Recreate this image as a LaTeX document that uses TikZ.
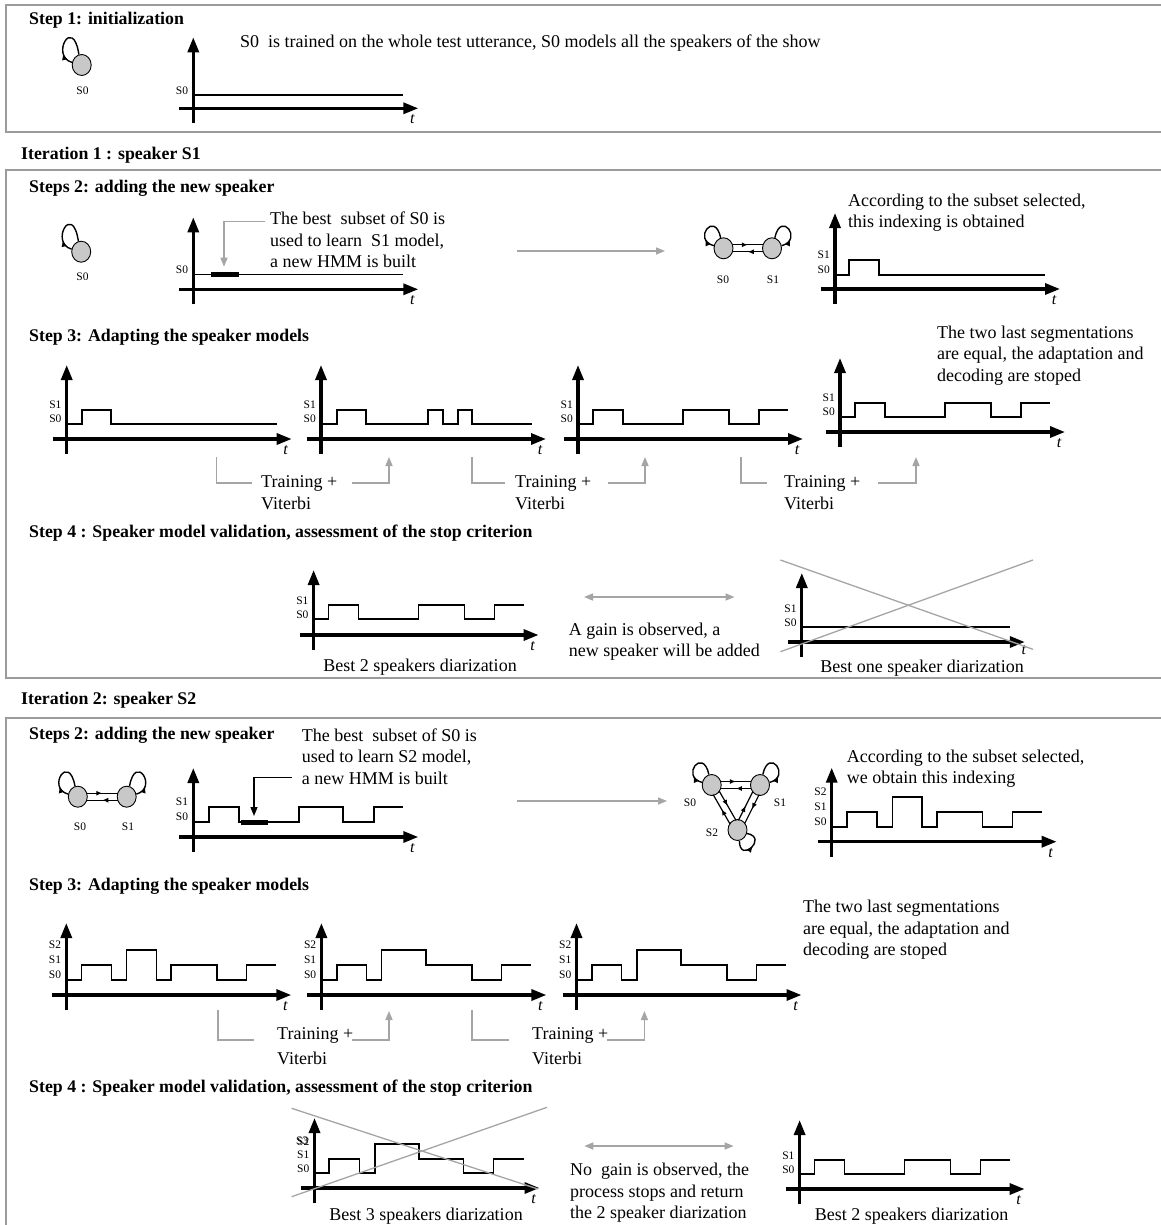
\documentclass[tikz,border=0pt]{standalone}
\usepackage{fontspec}
\setmainfont{Liberation Serif}
\usetikzlibrary{arrows.meta,shapes.geometric,decorations.markings,calc}
\definecolor{boxgray}{RGB}{155,155,155}
\definecolor{arrgray}{RGB}{165,165,165}
\definecolor{statefill}{RGB}{200,200,200}
\newcommand{\chartaxes}[4][72]{%
  \coordinate (#2) at (#3,#4);
  \draw[axisline] ($(#2)+(-14,0)$) -- ($(#2)+(225,0)$);
  \draw[axisline] ($(#2)+(0,15)$) -- ($(#2)+(0,-#1)$);
  \node[tlab] (#2t) at ($(#2)+(219,11)$) {t};}
\newcommand{\signal}[2]{\begin{scope}[shift={(#1)}]\draw[sig] #2;\end{scope}}
\newcommand{\lvl}[3]{\node[lab,anchor=east] at ($(#1)+(-5,-#2)$) {#3};}
\newcommand{\pairedge}[2]{%
  \draw[edgeline] ($(#1)!3.5pt!90:(#2)$) -- ($(#2)!3.5pt!-90:(#1)$);
  \draw[edgeline] ($(#2)!3.5pt!90:(#1)$) -- ($(#1)!3.5pt!-90:(#2)$);}
\newcommand{\loopUL}[2]{\draw[selfloop] (#1.165) .. controls +(-22,-6) and +(-6,-#2) .. (#1.105);}
\newcommand{\loopUR}[2]{\draw[selfloop] (#1.15) .. controls +(22,-6) and +(6,-#2) .. (#1.75);}
\newcommand{\loopBR}[1]{\draw[selfloop=0.55] (#1.280) .. controls +(0,24) and +(22,4) .. (#1.340);}
\begin{document}
\begin{tikzpicture}[x=1pt,y=-1pt,
  frame/.style={draw=boxgray,line width=1.5pt},
  head/.style={font=\fontsize{17.8}{21}\selectfont\bfseries,anchor=west,inner sep=0pt},
  txt/.style={font=\fontsize{18}{21.5}\selectfont,anchor=west,align=left,inner sep=0pt},
  ctxt/.style={font=\fontsize{18}{21.5}\selectfont,inner sep=0pt},
  lab/.style={font=\fontsize{11.5}{13}\selectfont,inner sep=0pt},
  tlab/.style={font=\fontsize{16}{16}\selectfont\itshape,inner sep=0pt},
  axisline/.style={line width=3.2pt,-{Triangle[length=15pt,width=11pt]}},
  sig/.style={line width=1.6pt},
  thickseg/.style={line width=5pt},
  state/.style={ellipse,draw,line width=0.9pt,fill=statefill,minimum width=19pt,minimum height=21pt,inner sep=0pt},
  selfloop/.style={line width=1.4pt,decoration={markings,mark=at position #1 with {\arrow{Latex[length=6.5pt,width=5.5pt]}}},postaction={decorate}},
  selfloop/.default=0.25,
  edgeline/.style={line width=1.2pt,shorten >=9pt,shorten <=9pt,decoration={markings,mark=at position 0.5 with {\arrow{Latex[length=6pt,width=5pt]}}},postaction={decorate}},
  garrow/.style={draw=arrgray,line width=1.5pt,-{Triangle[length=9pt,width=7pt]}},
  gdarrow/.style={draw=arrgray,line width=1.5pt,{Triangle[length=9pt,width=7pt]}-{Triangle[length=9pt,width=7pt]}},
  gline/.style={draw=arrgray,line width=1.5pt},
  karrow/.style={line width=1.4pt,-{Triangle[length=9pt,width=7pt]}},
  cross/.style={draw=arrgray,line width=1.3pt}]
\useasboundingbox (0,0) rectangle (1160,1225);
\fill[white] (0,0) rectangle (1160,1225);
% ================= Step 1
\draw[frame] (6,5) rectangle (1175,132);
\node[head] (h1) at (29,20) {Step 1: initialization};
\node[state] (n1) at (81.7,65) {};
\loopUL{n1}{40}
\node[lab] (n1l) at (82.5,91) {S0};
\chartaxes[71]{A1}{193.3}{108.3}
\signal{A1}{(0,-13) -- (210,-13)}
\lvl{A1}{18}{S0}
\node[txt] (t1) at (240,43) {S0\ \ is trained on the whole test utterance, S0 models all the speakers of the show};
% ================= Iteration 1
\node[head] (h2) at (21,155) {Iteration 1 : speaker S1};
\draw[frame] (6,170) rectangle (1175,678);
\node[head] (h3) at (29,188) {Steps 2: adding the new speaker};
\node[state] (n2) at (81.2,251.7) {};
\loopUL{n2}{40}
\node[lab] (n2l) at (82.5,277) {S0};
\chartaxes[72]{A2}{193.3}{289.3}
\signal{A2}{(0,-15) -- (210,-15)}
\begin{scope}[shift={(A2)}]\draw[thickseg] (17.5,-15) -- (46,-15);\end{scope}
\lvl{A2}{20}{S0}
\coordinate (g1s) at (265,221.7);
\coordinate (g1e) at (224,266.7);
\draw[garrow] (g1s) -| (g1e);
\node[txt] (t2) at (270,240) {The best\ \ subset of S0 is\\used to learn\ \ S1 model,\\a new HMM is built};
\coordinate (m1s) at (517,251);
\coordinate (m1e) at (665,251);
\draw[garrow] (m1s) -- (m1e);
\node[state] (p1a) at (723.5,248.3) {};
\node[state] (p1b) at (772,248.3) {};
\pairedge{p1a}{p1b}
\loopUL{p1a}{28}
\loopUR{p1b}{28}
\node[lab] (p1al) at (723,280) {S0};
\node[lab] (p1bl) at (773,280) {S1};
\chartaxes[76]{A3}{835}{289}
\signal{A3}{(0,-14) -- (14,-14) |- (44,-29) |- (210,-14)}
\lvl{A3}{19}{S0}
\lvl{A3}{34}{S1}
\node[txt] (t3) at (848,212.5) {According to the subset selected,\\this indexing is obtained};
% ---- Step 3
\node[head] (h4) at (29,337) {Step 3: Adapting the speaker models};
\chartaxes[74]{B1}{66.7}{439}
\signal{B1}{(0,-15) -- (15,-15) |- (44.5,-29) |- (210,-15)}
\chartaxes[74]{B2}{321}{439}
\signal{B2}{(0,-15) -- (16,-15) |- (45,-29) |- (107,-15) |- (122,-29) |- (137,-15) |- (151,-29) |- (211,-15)}
\chartaxes[74]{B3}{578}{439}
\signal{B3}{(0,-15) -- (15,-15) |- (45,-29) |- (105,-15) |- (151,-29) |- (181,-15) |- (210,-29)}
\chartaxes[74]{B4}{840}{432}
\signal{B4}{(0,-15) -- (15,-15) |- (45,-29) |- (105,-15) |- (151,-29) |- (181,-15) |- (210,-29)}
\foreach \c in {B1,B2,B3,B4}{\lvl{\c}{20}{S0}\lvl{\c}{34}{S1}}
\node[txt] (t4) at (937,355.5) {The two last segmentations\\are equal, the adaptation and\\decoding are stoped};
% brackets
\foreach \i/\bx/\hx/\tx/\ra/\rb in {1/216.5/252/261/352/389, 2/472/505/515/608/645, 3/741/767/784/878/916}{
  \coordinate (br\i s) at (\bx,457);
  \coordinate (br\i e) at (\hx,483);
  \draw[gline] (br\i s) |- (br\i e);
  \node[txt] (br\i t) at (\tx,483) {Training +};
  \node[txt] (br\i v) at (\tx,503) {Viterbi};
  \coordinate (br\i a) at (\ra,483);
  \coordinate (br\i b) at (\rb,457);
  \draw[garrow] (br\i a) -| (br\i b);
}
% ---- Step 4
\node[head] (h5) at (29,533) {Step 4 : Speaker model validation, assessment of the stop criterion};
\chartaxes[65]{E1}{313.6}{635}
\signal{E1}{(0,-16) -- (15,-16) |- (45,-30) |- (105,-16) |- (151,-30) |- (181,-16) |- (210,-30)}
\lvl{E1}{20}{S0}
\lvl{E1}{34}{S1}
\node[ctxt] (e1c) at (420,667) {Best 2 speakers diarization};
\coordinate (d1s) at (584,597);
\coordinate (d1e) at (734.5,597);
\draw[gdarrow] (d1s) -- (d1e);
\node[txt] (t5) at (568.7,641.5) {A gain is observed, a\\new speaker will be added};
\coordinate (F1) at (801.8,642);
\draw[axisline] ($(F1)+(-14,0)$) -- ($(F1)+(223,0)$);
\draw[axisline] ($(F1)+(0,15)$) -- ($(F1)+(0,-69)$);
\node[tlab] (F1t) at ($(F1)+(222,8)$) {t};
\signal{F1}{(0,-15) -- (208,-15)}
\lvl{F1}{19}{S0}
\lvl{F1}{33}{S1}
\coordinate (x1a) at (780.4,560);
\coordinate (x1b) at (1033,649.3);
\coordinate (x1c) at (780.4,651.7);
\coordinate (x1d) at (1033,560);
\draw[cross] (x1a) -- (x1b);
\draw[cross] (x1c) -- (x1d);
\node[ctxt] (f1c) at (922,668) {Best one speaker diarization};
% ================= Iteration 2
\node[head] (h6) at (21,700) {Iteration 2: speaker S2};
\draw[frame] (6,718) rectangle (1175,1240);
\node[head] (h7) at (29,735) {Steps 2: adding the new speaker};
\node[state] (p2a) at (77.8,796.7) {};
\node[state] (p2b) at (126.7,796.7) {};
\pairedge{p2a}{p2b}
\loopUL{p2a}{34}
\loopUR{p2b}{34}
\node[lab] (p2al) at (80,826.7) {S0};
\node[lab] (p2bl) at (128,826.7) {S1};
\chartaxes[69]{C1}{193.3}{837}
\signal{C1}{(0,-15) -- (15.7,-15) |- (45.7,-30) |- (105.7,-15) |- (149.7,-30) |- (180.7,-15) |- (209.7,-30)}
\begin{scope}[shift={(C1)}]\draw[thickseg] (47.7,-15) -- (74.7,-15);\end{scope}
\lvl{C1}{20}{S0}
\lvl{C1}{35}{S1}
\coordinate (k1s) at (292,777.7);
\coordinate (k1e) at (254,816);
\draw[karrow] (k1s) -| (k1e);
\node[txt] (t6) at (301.7,756.5) {The best\ \ subset of S0 is\\used to learn S2 model,\\a new HMM is built};
\coordinate (m2s) at (517,801);
\coordinate (m2e) at (667,801);
\draw[garrow] (m2s) -- (m2e);
\node[state] (q0) at (711.7,785) {};
\node[state] (q1) at (760,785) {};
\node[state] (q2) at (737.5,830) {};
\pairedge{q0}{q1}
\pairedge{q0}{q2}
\pairedge{q1}{q2}
\loopUL{q0}{28}
\loopUR{q1}{28}
\loopBR{q2}
\node[lab] (q0l) at (690,803) {S0};
\node[lab] (q1l) at (780,803) {S1};
\node[lab] (q2l) at (712,833) {S2};
\chartaxes[74]{C2}{831.7}{841.7}
\signal{C2}{(0,-15) -- (15,-15) |- (45,-30) |- (60.6,-15) |- (90,-45) |- (105,-15) |- (150.6,-30) |- (180.6,-15) |- (210,-30)}
\lvl{C2}{20}{S0}
\lvl{C2}{35}{S1}
\lvl{C2}{50}{S2}
\node[txt] (t7) at (846.7,768.8) {According to the subset selected,\\we obtain this indexing};
% ---- Step 3
\node[head] (h8) at (29,886.7) {Step 3: Adapting the speaker models};
\chartaxes[72]{D1}{66.3}{995}
\signal{D1}{(0,-15) -- (15,-15) |- (45,-30) |- (60.3,-15) |- (90.3,-45) |- (104.6,-15) |- (150.5,-30) |- (180.1,-15) |- (209.2,-30)}
\chartaxes[72]{D2}{321.4}{995}
\signal{D2}{(0,-15) -- (15.3,-15) |- (44.9,-30) |- (60.2,-15) |- (104.6,-45) |- (150.5,-30) |- (180.1,-15) |- (209.2,-30)}
\chartaxes[72]{D3}{576.5}{995}
\signal{D3}{(0,-15) -- (15.3,-15) |- (44.9,-30) |- (60.2,-15) |- (104.6,-45) |- (150.5,-30) |- (180.1,-15) |- (209.2,-30)}
\foreach \c in {D1,D2,D3}{\lvl{\c}{20}{S0}\lvl{\c}{35}{S1}\lvl{\c}{50}{S2}}
\node[txt] (t8) at (803,930) {The two last segmentations\\are equal, the adaptation and\\decoding are stoped};
\foreach \i/\bx/\hx/\tx/\ra/\rb in {4/218/253.6/277/352/389, 5/472/508.7/532/607/644.4}{
  \coordinate (br\i s) at (\bx,1010);
  \coordinate (br\i e) at (\hx,1040);
  \draw[gline] (br\i s) |- (br\i e);
  \node[txt] (br\i t) at (\tx,1035) {Training +};
  \node[txt] (br\i v) at (\tx,1058) {Viterbi};
  \coordinate (br\i a) at (\ra,1040);
  \coordinate (br\i b) at (\rb,1011);
  \draw[garrow] (br\i a) -| (br\i b);
}
% ---- Step 4
\node[head] (h9) at (29,1088) {Step 4 : Speaker model validation, assessment of the stop criterion};
\chartaxes[70]{G1}{314.5}{1188}
\signal{G1}{(0,-15) -- (14.4,-15) |- (44.8,-29) |- (60.3,-15) |- (104.5,-44) |- (149,-29) |- (179,-15) |- (209.5,-29)}
\lvl{G1}{19}{S0}
\lvl{G1}{33}{S1}
\lvl{G1}{46}{S2}
\node[lab,anchor=east] (g1s3) at ($(G1)+(-6,-47.5)$) {S3};
\coordinate (x2a) at (291.6,1108.3);
\coordinate (x2b) at (538,1189);
\coordinate (x2c) at (291.6,1196.7);
\coordinate (x2d) at (547,1107.3);
\draw[cross] (x2a) -- (x2b);
\draw[cross] (x2c) -- (x2d);
\node[ctxt] (g1c) at (426,1216) {Best 3 speakers diarization};
\coordinate (d2s) at (584.3,1146);
\coordinate (d2e) at (733.6,1146);
\draw[gdarrow] (d2s) -- (d2e);
\node[txt] (t9) at (570,1193) {No\ \ gain is observed, the\\process stops and return\\the 2 speaker diarization};
\chartaxes[69]{H1}{799.6}{1189}
\signal{H1}{(0,-15) -- (15,-15) |- (45,-29) |- (105,-15) |- (151,-29) |- (181,-15) |- (210,-29)}
\lvl{H1}{19}{S0}
\lvl{H1}{33}{S1}
\node[ctxt] (h1c) at (911.6,1216) {Best 2 speakers diarization};
\end{tikzpicture}
\end{document}
